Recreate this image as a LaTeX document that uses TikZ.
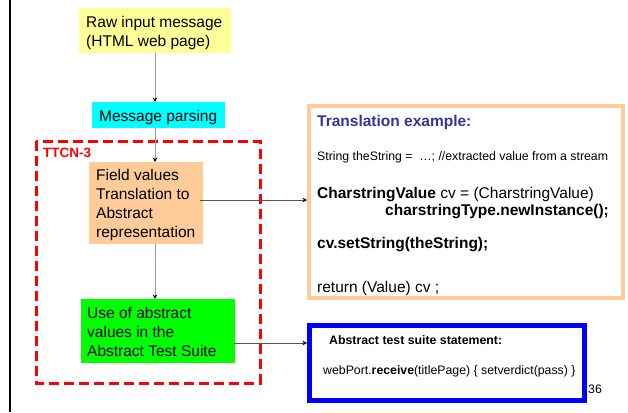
\documentclass[tikz,border=0pt]{standalone}
\usepackage{fontspec}
\setmainfont{Liberation Sans}
\usetikzlibrary{arrows.meta}
\definecolor{rawyellow}{HTML}{FFFF99}
\definecolor{parsecyan}{HTML}{00FFFF}
\definecolor{peach}{HTML}{FFCC99}
\definecolor{usegreen}{HTML}{00FF00}
\definecolor{titleblue}{HTML}{333399}
\definecolor{flowgray}{HTML}{999999}
\definecolor{linkgray}{HTML}{555555}
\tikzset{
  flowtext/.style={anchor=north west, inner sep=0pt, align=left, font=\fontsize{15.5}{19}\selectfont},
  tip/.style={-{Stealth[length=4.5pt,width=4.5pt,black]}},
  downflow/.style={tip, draw=flowgray, line width=1pt},
  sideflow/.style={tip, draw=linkgray, line width=1pt},
  codebig/.style={anchor=base west, inner sep=0pt, font=\fontsize{15.5}{19}\selectfont},
  codesmall/.style={anchor=base west, inner sep=0pt, font=\fontsize{12.3}{14}\selectfont},
}
\begin{document}
\begin{tikzpicture}[x=1pt,y=-1pt]
\useasboundingbox (0,0) rectangle (628,412);
% left margin rule
\draw[line width=2.5pt] (10,0) -- (10,412);

% process boxes
\fill[rawyellow] (79,8) rectangle (231,53);
\node[flowtext] (raw) at (86,16) {Raw input message\\(HTML web page)};
\coordinate (rawb) at (155,53);

\fill[parsecyan] (92,102) rectangle (225,128);
\node[flowtext, anchor=base west] (parse) at (99,121.5) {Message parsing};
\coordinate (parset) at (155,102);
\coordinate (parseb) at (155,128);

% TTCN-3 frame
\draw[red, line width=3pt, dash pattern=on 10pt off 5pt] (36,141) rectangle (260,383);
\node[anchor=base west, inner sep=0pt, text=red, font=\bfseries\fontsize{13.5}{16}\selectfont] (ttcn) at (43,157.3) {TTCN-3};

\fill[peach] (89,162) rectangle (203,244);
\node[flowtext] (field) at (96,169) {Field values\\Translation to\\Abstract\\representation};
\coordinate (fieldt) at (155,162);
\coordinate (fieldb) at (155,244);
\coordinate (fieldr) at (200,200);

\fill[usegreen] (81,299) rectangle (235,363);
\node[flowtext] (use) at (87,307.5) {Use of abstract\\values in the\\Abstract Test Suite};
\coordinate (uset) at (155,299);
\coordinate (user) at (234,343);

% translation example
\draw[peach, line width=4pt] (309,106) rectangle (623,298);
\coordinate (transl) at (307,200);
\node[codebig, text=titleblue, font=\bfseries\fontsize{15.5}{19}\selectfont] (ttl) at (317,126) {Translation example:};
\node[codesmall] (l1) at (317,160) {String theString =\ \ …; //extracted value from a stream};
\node[codebig] (l2) at (317,198.3) {\textbf{CharstringValue} cv = (CharstringValue)};
\node[codebig] (l3) at (385,215.7) {\textbf{charstringType.newInstance();}};
\node[codebig] (l4) at (317,248.3) {\textbf{cv.setString(theString);}};
\node[codebig] (l5) at (317,292.3) {return (Value) cv ;};

% test suite statement
\draw[blue, line width=5pt] (309.5,325.5) rectangle (584.5,400.5);
\coordinate (stmtl) at (307,343);
\node[codesmall, font=\bfseries\fontsize{12.3}{14}\selectfont] (st) at (329,344.3) {Abstract test suite statement:};
\node[codesmall] (sc) at (323,374) {webPort.\textbf{receive}(titlePage) \{ setverdict(pass) \}};

\node[codesmall] (pg) at (588,393.3) {36};

% connectors
\draw[downflow] (rawb) -- (parset);
\draw[downflow] (parseb) -- (fieldt);
\draw[downflow] (fieldb) -- (uset);
\draw[sideflow] (fieldr) -- (transl);
\draw[sideflow] (user) -- (stmtl);
\end{tikzpicture}
\end{document}
